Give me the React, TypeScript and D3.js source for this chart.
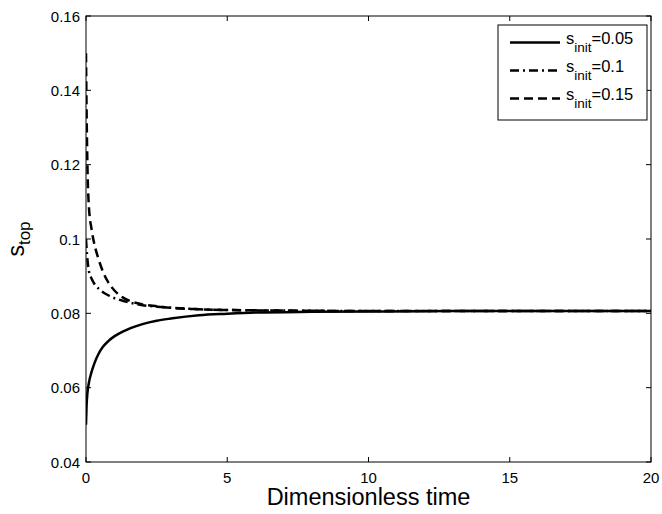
import React from "react";
import * as d3 from "d3";

const timePoints = [0, 0.02, 0.05, 0.1, 0.2, 0.3, 0.45, 0.6, 0.8, 1, 1.3, 1.6, 2, 2.5, 3, 4, 5, 6, 8, 10, 13, 16, 20];
const sInit005 = [0.05, 0.055, 0.0585, 0.0612, 0.0643, 0.0666, 0.0692, 0.071, 0.0726, 0.0738, 0.0751, 0.0761, 0.0771, 0.078, 0.0786, 0.0795, 0.0799, 0.0802, 0.0804, 0.0805, 0.0806, 0.0806, 0.0806];
const sInit01 = [0.1, 0.0975, 0.0945, 0.0915, 0.0893, 0.0879, 0.0866, 0.0857, 0.0848, 0.0841, 0.0834, 0.0828, 0.0822, 0.0818, 0.0815, 0.0811, 0.0809, 0.0808, 0.0807, 0.0806, 0.0806, 0.0806, 0.0806];
const sInit015 = [0.15, 0.135, 0.12, 0.109, 0.1025, 0.0985, 0.0945, 0.0912, 0.0882, 0.0862, 0.0843, 0.0832, 0.0824, 0.0819, 0.0815, 0.0811, 0.0809, 0.0808, 0.0807, 0.0806, 0.0806, 0.0806, 0.0806];

const xTicks = [0, 5, 10, 15, 20];
const yTicks = [0.04, 0.06, 0.08, 0.1, 0.12, 0.14, 0.16];
const yTickLabels = ["0.04", "0.06", "0.08", "0.1", "0.12", "0.14", "0.16"];
const legendLabels = ["0.05", "0.1", "0.15"];

const W = 662, H = 514;
const L = 86, R = 651, T = 16, B = 462;
const FONT = "Liberation Sans, Arial, Helvetica, sans-serif";

export default function App() {
  const x = d3.scaleLinear().domain([0, 20]).range([L, R]);
  const y = d3.scaleLinear().domain([0.04, 0.16]).range([B, T]);
  const line = d3
    .line<number>()
    .x((_, i) => x(timePoints[i]))
    .y((d) => y(d))
    .curve(d3.curveMonotoneX);

  const series = [
    { data: sInit005, dash: "none" },
    { data: sInit01, dash: "9,4,2,4" },
    { data: sInit015, dash: "9,5" },
  ];

  const tickLen = 5;
  const legX = 498, legY = 25, legW = 149, legH = 95;
  const rowY = [42.5, 70.5, 98.5];

  return (
    <svg
      width={W}
      height={H}
      style={{ position: "absolute", left: 0, top: 0, background: "#fff" }}
      fontFamily={FONT}
    >
      <rect x={0} y={0} width={W} height={H} fill="#fff" />
      <defs>
        <clipPath id="plotclip">
          <rect x={L} y={T} width={R - L} height={B - T} />
        </clipPath>
      </defs>
      <g clipPath="url(#plotclip)">
        {series.map((s, i) => (
          <path
            key={i}
            d={line(s.data) || ""}
            fill="none"
            stroke="#000"
            strokeWidth={2.5}
            strokeDasharray={s.dash}
          />
        ))}
      </g>
      <rect x={L} y={T} width={R - L} height={B - T} fill="none" stroke="#000" strokeWidth={1} />
      {xTicks.map((t) => (
        <g key={"x" + t}>
          <line x1={x(t)} x2={x(t)} y1={B} y2={B - tickLen} stroke="#000" />
          <line x1={x(t)} x2={x(t)} y1={T} y2={T + tickLen} stroke="#000" />
          <text x={x(t)} y={482.5} textAnchor="middle" fontSize={15}>
            {t}
          </text>
        </g>
      ))}
      {yTicks.map((t, i) => (
        <g key={"y" + t}>
          <line x1={L} x2={L + tickLen} y1={y(t)} y2={y(t)} stroke="#000" />
          <line x1={R} x2={R - tickLen} y1={y(t)} y2={y(t)} stroke="#000" />
          <text x={80} y={y(t) + 5.5} textAnchor="end" fontSize={15}>
            {yTickLabels[i]}
          </text>
        </g>
      ))}
      <text x={(L + R) / 2 + 0} y={505} textAnchor="middle" fontSize={23.5}>
        Dimensionless time
      </text>
      <text transform={`translate(24,${(T + B) / 2}) rotate(-90)`} textAnchor="middle" fontSize={23}>
        s<tspan fontSize={17} dy={6}>top</tspan>
      </text>
      <rect x={legX} y={legY} width={legW} height={legH} fill="#fff" stroke="#000" strokeWidth={1} />
      {series.map((s, i) => (
        <g key={"leg" + i}>
          <line
            x1={510}
            x2={560}
            y1={rowY[i]}
            y2={rowY[i]}
            stroke="#000"
            strokeWidth={2.5}
            strokeDasharray={s.dash}
          />
          <text x={566} y={rowY[i] + 1} fontSize={16.5}>
            s<tspan fontSize={13.5} dy={8}>init</tspan>
            <tspan dy={-8}>={legendLabels[i]}</tspan>
          </text>
        </g>
      ))}
    </svg>
  );
}
